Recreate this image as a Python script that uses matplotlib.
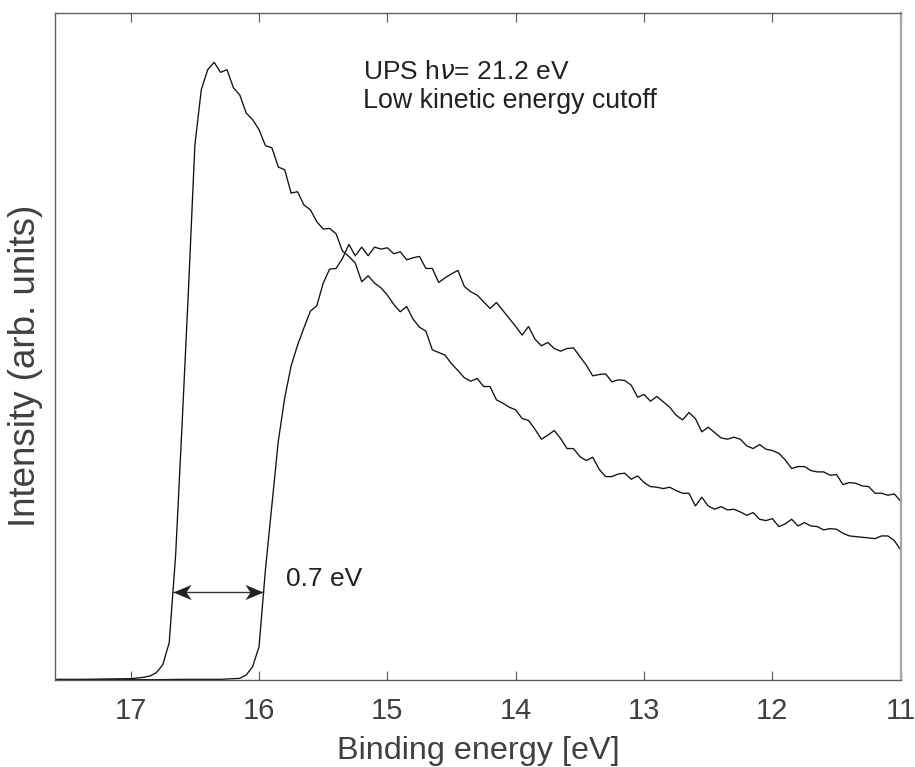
import numpy as np
import matplotlib
matplotlib.use("Agg")
import matplotlib.pyplot as plt
from matplotlib.path import Path

plt.rcParams['font.family'] = ['Liberation Sans', 'DejaVu Sans']
plt.rcParams['mathtext.fontset'] = 'dejavusans'

# ---------------- data (binding energy [eV], intensity [arb. units]) ----------------
energy_a = [17.60, 17.40, 17.20, 17.00, 16.95, 16.90, 16.85, 16.80, 16.75, 16.70, 16.65, 16.60,
            16.55, 16.50, 16.45, 16.40, 16.35, 16.30, 16.25, 16.20, 16.15, 16.10, 16.05, 16.00,
            15.95, 15.90, 15.85, 15.80, 15.75, 15.70, 15.65, 15.60, 15.55, 15.50, 15.45, 15.40,
            15.35, 15.30, 15.25, 15.20, 15.15, 15.10, 15.05, 15.00, 14.95, 14.90, 14.85, 14.80,
            14.75, 14.70, 14.65, 14.60, 14.55, 14.50, 14.45, 14.40, 14.35, 14.30, 14.25, 14.20,
            14.15, 14.10, 14.05, 14.00, 13.95, 13.90, 13.85, 13.80, 13.75, 13.70, 13.65, 13.60,
            13.55, 13.50, 13.45, 13.40, 13.35, 13.30, 13.25, 13.20, 13.15, 13.10, 13.05, 13.00,
            12.95, 12.90, 12.85, 12.80, 12.75, 12.70, 12.65, 12.60, 12.55, 12.50, 12.45, 12.40,
            12.35, 12.30, 12.25, 12.20, 12.15, 12.10, 12.05, 12.00, 11.95, 11.90, 11.85, 11.80,
            11.75, 11.70, 11.65, 11.60, 11.55, 11.50, 11.45, 11.40, 11.35, 11.30, 11.25, 11.20,
            11.15, 11.10, 11.05, 11.00]
intensity_a = [0.1, 0.1, 0.15, 0.2, 0.3, 0.4, 0.6, 1.1, 2.3, 5.6, 18.7, 38.2,
               58.5, 80.2, 88.5, 91.5, 92.6, 91.1, 91.5, 88.8, 87.7, 85.0, 84.0, 82.5,
               80.1, 79.8, 76.9, 76.5, 73.0, 73.2, 71.2, 70.5, 68.7, 67.6, 67.7, 66.9,
               64.3, 63.5, 62.5, 59.7, 60.6, 59.5, 58.8, 57.7, 56.3, 55.2, 56.0, 54.1,
               52.9, 52.3, 49.5, 49.1, 48.7, 47.4, 46.4, 45.3, 44.8, 45.2, 44.0, 44.0,
               42.0, 41.5, 40.9, 40.5, 39.2, 38.9, 37.6, 36.1, 36.7, 37.4, 36.2, 34.7,
               34.7, 33.5, 32.9, 33.4, 31.6, 30.5, 30.5, 30.9, 31.0, 30.1, 30.6, 29.6,
               29.0, 28.9, 28.7, 28.9, 28.4, 28.0, 28.0, 26.1, 27.4, 26.1, 25.6, 26.0,
               25.5, 25.6, 25.2, 24.7, 25.1, 24.1, 23.9, 24.2, 23.0, 23.4, 24.1, 23.1,
               23.6, 23.1, 23.0, 22.5, 22.7, 22.6, 22.0, 21.6, 21.5, 21.4, 21.3, 21.2,
               21.6, 21.6, 20.9, 19.5]

energy_b = [17.60, 17.20, 16.80, 16.60, 16.40, 16.30, 16.25, 16.20, 16.15, 16.10, 16.05, 16.00,
            15.95, 15.90, 15.85, 15.80, 15.75, 15.70, 15.65, 15.60, 15.55, 15.50, 15.45, 15.40,
            15.35, 15.30, 15.25, 15.20, 15.15, 15.10, 15.05, 15.00, 14.95, 14.90, 14.85, 14.80,
            14.75, 14.70, 14.65, 14.60, 14.55, 14.50, 14.45, 14.40, 14.35, 14.30, 14.25, 14.20,
            14.15, 14.10, 14.05, 14.00, 13.95, 13.90, 13.85, 13.80, 13.75, 13.70, 13.65, 13.60,
            13.55, 13.50, 13.45, 13.40, 13.35, 13.30, 13.25, 13.20, 13.15, 13.10, 13.05, 13.00,
            12.95, 12.90, 12.85, 12.80, 12.75, 12.70, 12.65, 12.60, 12.55, 12.50, 12.45, 12.40,
            12.35, 12.30, 12.25, 12.20, 12.15, 12.10, 12.05, 12.00, 11.95, 11.90, 11.85, 11.80,
            11.75, 11.70, 11.65, 11.60, 11.55, 11.50, 11.45, 11.40, 11.35, 11.30, 11.25, 11.20,
            11.15, 11.10, 11.05, 11.00]
intensity_b = [0.0, 0.05, 0.05, 0.1, 0.1, 0.1, 0.15, 0.2, 0.25, 0.75, 2.0, 5.0,
               16.6, 26.2, 35.8, 42.3, 47.1, 50.2, 52.8, 55.3, 56.1, 59.5, 61.6, 61.7,
               63.2, 65.3, 63.6, 64.9, 63.6, 64.9, 64.6, 64.8, 63.9, 64.2, 63.0, 63.3,
               63.5, 61.7, 61.7, 59.6, 60.3, 60.9, 61.4, 59.0, 58.2, 57.7, 56.7, 55.7,
               56.6, 55.4, 54.2, 53.0, 51.7, 53.0, 51.1, 50.1, 50.6, 49.7, 49.3, 49.7,
               49.8, 48.5, 47.2, 45.6, 45.8, 45.9, 44.7, 45.0, 44.9, 44.2, 42.4, 42.8,
               41.8, 42.5, 41.7, 40.9, 39.7, 39.0, 40.1, 39.2, 37.2, 37.9, 37.1, 36.3,
               36.1, 36.4, 36.1, 35.1, 34.7, 35.3, 34.6, 34.4, 34.0, 33.0, 31.7, 32.0,
               32.0, 31.4, 31.2, 31.2, 30.7, 30.8, 29.3, 29.6, 29.5, 29.1, 29.0, 28.0,
               28.0, 27.7, 27.9, 26.8]

x_ticks = [17, 16, 15, 14, 13, 12, 11]
x_limits = (17.59, 11.0)
y_limits = (0, 100)

shift_start, shift_end, shift_level = 16.67, 15.97, 13.2
shift_label = "0.7 eV"
info_lines = ["UPS h$\\nu$= 21.2 eV", "Low kinetic energy cutoff"]

# ---------------- figure ----------------
fig = plt.figure(figsize=(9.15, 7.67), dpi=100)
ax = fig.add_axes([0.0601, 0.1134, 0.9243, 0.8697])

ax.plot(energy_a, intensity_a, color='#111111', lw=0.95)
ax.plot(energy_b, intensity_b, color='#111111', lw=0.95)

ax.set_xlim(*x_limits)
ax.set_ylim(*y_limits)
ax.set_xticks(x_ticks)
ax.set_xticklabels([str(t) for t in x_ticks])
ax.set_yticks([])

ax.tick_params(axis='x', direction='in', length=6.5, width=0.9, color='#606060',
               top=True, bottom=True, labelsize=21, labelcolor='#404040', pad=12)

for side in ['left', 'top', 'bottom']:
    ax.spines[side].set_color('#606060')
    ax.spines[side].set_linewidth(1.0)
ax.spines['right'].set_color('#a8a8a8')
ax.spines['right'].set_linewidth(1.6)

ax.set_xlabel("Binding energy [eV]", fontsize=23.3, color='#404040', labelpad=8)
ax.set_ylabel("Intensity (arb. units)", fontsize=26.5, color='#404040')
ax.yaxis.set_label_coords(-0.0145, 0.4715)

# double arrow with stealth heads
ax.plot([shift_start, shift_end], [shift_level, shift_level], color='#333333', lw=1.0)
head_r = Path([(0, 0), (-1.0, 0.42), (-0.72, 0), (-1.0, -0.42), (0, 0)],
              [Path.MOVETO, Path.LINETO, Path.LINETO, Path.LINETO, Path.CLOSEPOLY])
head_l = Path([(0, 0), (1.0, 0.42), (0.72, 0), (1.0, -0.42), (0, 0)],
              [Path.MOVETO, Path.LINETO, Path.LINETO, Path.LINETO, Path.CLOSEPOLY])
ax.plot([shift_end], [shift_level], marker=head_r, markersize=26, color='#222222',
        markeredgewidth=0)
ax.plot([shift_start], [shift_level], marker=head_l, markersize=26, color='#222222',
        markeredgewidth=0)

ax.text(15.79, 15.1, shift_label, fontsize=19, color='#222222', ha='left', va='center')
ax.text(15.19, 90.1, info_lines[0], fontsize=19, color='#222222', ha='left', va='baseline')
ax.text(15.19, 85.7, info_lines[1], fontsize=19.3, color='#222222', ha='left', va='baseline')

fig.savefig("out.png", dpi=100)
